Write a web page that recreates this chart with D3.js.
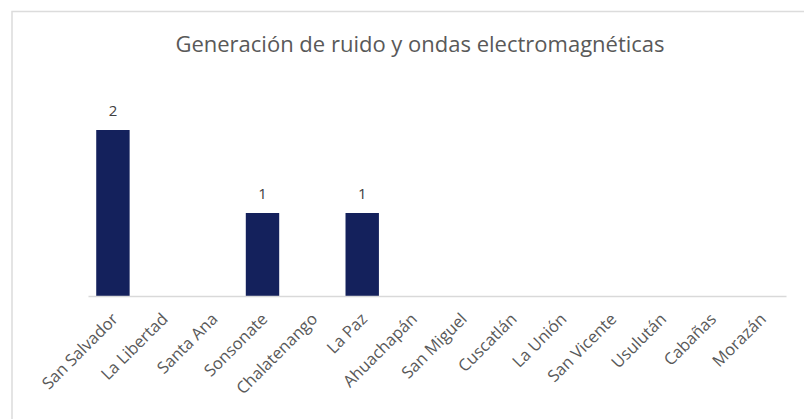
<!DOCTYPE html>
<html>
<head>
<meta charset="utf-8">
<script src="https://cdn.jsdelivr.net/npm/d3@7"></script>
<style>
  body { margin: 0; background: #fff; }
  svg { display: block; font-family: "Open Sans", sans-serif; }
</style>
</head>
<body>
<svg id="chart" width="804" height="419"></svg>
<script>
const chartTitle = 'Generación de ruido y ondas electromagnéticas';
const departments = ['San Salvador', 'La Libertad', 'Santa Ana', 'Sonsonate', 'Chalatenango', 'La Paz',
    'Ahuachapán', 'San Miguel', 'Cuscatlán', 'La Unión', 'San Vicente', 'Usulután', 'Cabañas', 'Morazán'];
const counts = [2, null, null, 1, null, 1, null, null, null, null, null, null, null, null];

const svg = d3.select('#chart');
const margin = {top: 130, right: 18, bottom: 123, left: 88};
const width = 804 - margin.left - margin.right;
const height = 419 - margin.top - margin.bottom;

// chart frame (partially visible in the original crop)
svg.append('path')
    .attr('d', 'M12,419 V11.5 H804')
    .attr('fill', 'none')
    .attr('stroke', '#dcdcdc')
    .attr('stroke-width', 1.5);

svg.append('text')
    .attr('x', 420)
    .attr('y', 52)
    .attr('text-anchor', 'middle')
    .style('font-size', '22px')
    .style('fill', '#595959')
    .text(chartTitle);

const g = svg.append('g')
    .attr('transform', `translate(${margin.left},${margin.top})`);

const x = d3.scaleBand()
    .domain(departments)
    .range([0, width])
    .paddingInner(0.33)
    .paddingOuter(0.165);

const y = d3.scaleLinear()
    .domain([0, 2])
    .range([height, 0]);

const data = departments.map((d, i) => ({name: d, value: counts[i]}));
const withValue = data.filter(d => d.value !== null);

g.selectAll('.bar')
    .data(withValue)
    .enter()
    .append('rect')
    .attr('class', 'bar')
    .attr('x', d => x(d.name))
    .attr('y', d => y(d.value))
    .attr('width', x.bandwidth())
    .attr('height', d => height - y(d.value))
    .attr('fill', '#14215c');

g.selectAll('.value-label')
    .data(withValue)
    .enter()
    .append('text')
    .attr('class', 'value-label')
    .attr('x', d => x(d.name) + x.bandwidth() / 2)
    .attr('y', d => y(d.value) - 14)
    .attr('text-anchor', 'middle')
    .style('font-size', '15px')
    .style('fill', '#404040')
    .text(d => d.value);

// category axis
const xAxis = g.append('g')
    .attr('transform', `translate(0,${height})`)
    .call(d3.axisBottom(x).tickSize(0).tickPadding(0));

xAxis.select('.domain')
    .attr('stroke', '#d9d9d9')
    .attr('stroke-width', 1.5);

xAxis.selectAll('text')
    .attr('text-anchor', 'end')
    .attr('dy', '0.35em')
    .attr('transform', 'translate(2,20) rotate(-45)')
    .style('font-size', '16.5px')
    .style('font-family', '"Open Sans", sans-serif')
    .style('fill', '#595959');
</script>
</body>
</html>
